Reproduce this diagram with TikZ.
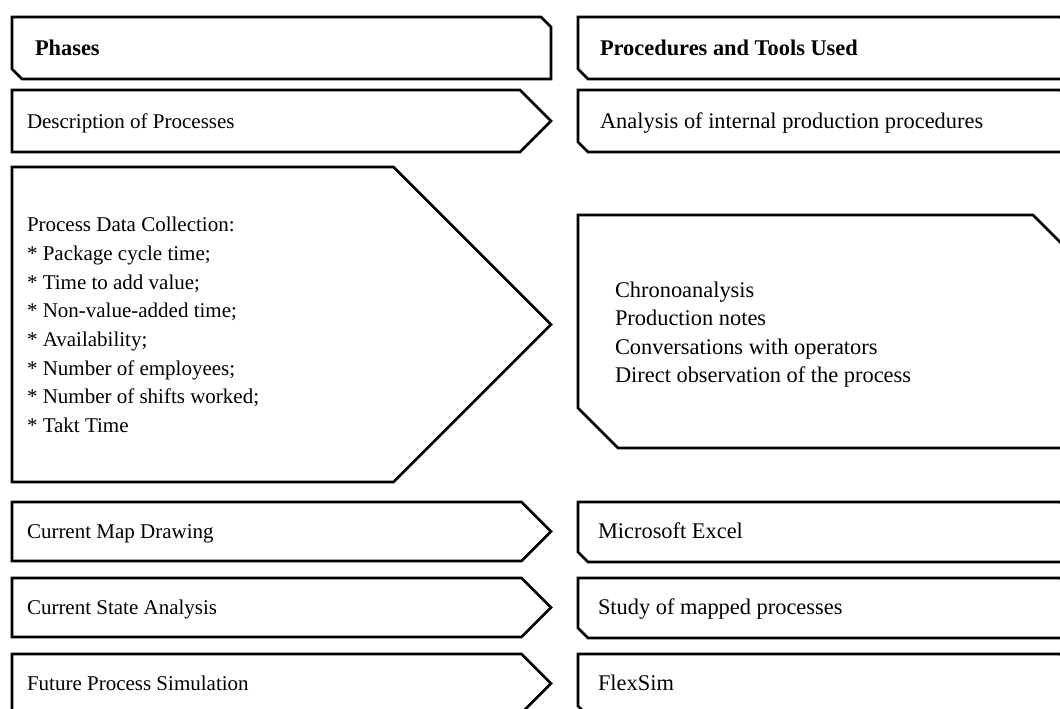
\documentclass[tikz,border=0pt]{standalone}
\usepackage{fontspec}
\setmainfont{Liberation Serif}
\begin{document}
\begin{tikzpicture}[x=0.75pt,y=-0.75pt,
  shapeline/.style={draw=black,line width=2pt,line join=miter,fill=white},
  txt/.style={inner sep=0pt,outer sep=0pt,anchor=base west,font=\fontsize{15.75}{21.45}\selectfont},
  rtxt/.style={txt,font=\fontsize{16.8}{21.45}\selectfont}]
\useasboundingbox (0,0) rectangle (1060,709);
\clip (0,0) rectangle (1060,709);
\fill[white] (0,0) rectangle (1060,709);
% left column
\draw[shapeline] (12,17) -- (541,17) -- (551,27) -- (551,79) -- (22,79) -- (12,69) -- cycle;
\draw[shapeline] (12,90) -- (520,90) -- (551,121) -- (520,152) -- (12,152) -- cycle;
\draw[shapeline] (12,167) -- (393.5,167) -- (551,324.5) -- (393.5,482) -- (12,482) -- cycle;
\draw[shapeline] (12,502) -- (521.5,502) -- (551,531.5) -- (521.5,561) -- (12,561) -- cycle;
\draw[shapeline] (12,578) -- (521.5,578) -- (551,607.5) -- (521.5,637) -- (12,637) -- cycle;
\draw[shapeline] (12,654) -- (521.5,654) -- (551,683.5) -- (521.5,713) -- (12,713) -- cycle;
% right column
\draw[shapeline] (578,17) -- (1060,17) -- (1070,27) -- (1070,79) -- (588,79) -- (578,69) -- cycle;
\draw[shapeline] (578,90) -- (1060,90) -- (1070,100) -- (1070,152) -- (588,152) -- (578,142) -- cycle;
\draw[shapeline] (578,215) -- (1033,215) -- (1073,255) -- (1073,448) -- (618,448) -- (578,408) -- cycle;
\draw[shapeline] (578,502) -- (1060,502) -- (1070,512) -- (1070,562) -- (588,562) -- (578,552) -- cycle;
\draw[shapeline] (578,578) -- (1060,578) -- (1070,588) -- (1070,638) -- (588,638) -- (578,628) -- cycle;
\draw[shapeline] (578,654) -- (1060,654) -- (1070,664) -- (1070,716) -- (588,716) -- (578,706) -- cycle;
% texts left
\node[rtxt] (phases) at (35,56) {\bfseries Phases};
\node[txt] (desc) at (27,129) {Description of Processes};
\node[txt] (pd1) at (27,232) {Process Data Collection:};
\node[txt] (pd2) at (27,260.6) {* Package cycle time;};
\node[txt] (pd3) at (27,289.2) {* Time to add value;};
\node[txt] (pd4) at (27,317.8) {* Non-value-added time;};
\node[txt] (pd5) at (27,346.4) {* Availability;};
\node[txt] (pd6) at (27,375) {* Number of employees;};
\node[txt] (pd7) at (27,403.6) {* Number of shifts worked;};
\node[txt] (pd8) at (27,432.2) {* Takt Time};
\node[txt] (map) at (27,538) {Current Map Drawing};
\node[txt] (state) at (27,614) {Current State Analysis};
\node[txt] (future) at (27,690) {Future Process Simulation};
% texts right
\node[rtxt] (proc) at (600,56) {\bfseries Procedures and Tools Used};
\node[rtxt] (anal) at (600,129) {Analysis of internal production procedures};
\node[rtxt] (ch1) at (615,297) {Chronoanalysis};
\node[rtxt] (ch2) at (615,325.5) {Production notes};
\node[rtxt] (ch3) at (615,354) {Conversations with operators};
\node[rtxt] (ch4) at (615,382.5) {Direct observation of the process};
\node[rtxt] (excel) at (598,538) {Microsoft Excel};
\node[rtxt] (study) at (598,614) {Study of mapped processes};
\node[rtxt] (flex) at (598,690) {FlexSim};
\end{tikzpicture}
\end{document}
